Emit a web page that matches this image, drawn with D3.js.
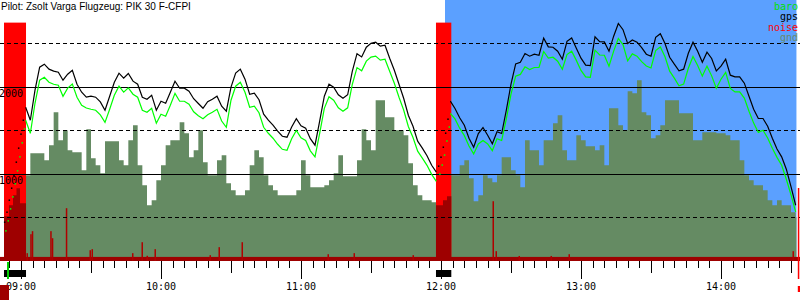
<!DOCTYPE html>
<html>
<head>
<meta charset="utf-8">
<title>Barogram</title>
<style>
  body { margin: 0; background: #fff; }
  svg { display: block; }
  .mono { font-family: "DejaVu Sans Mono", monospace; font-size: 10px; }
  .title { font-family: "Liberation Sans", Arial, sans-serif; font-size: 10px; }
</style>
</head>
<body>
<div id="chart"></div>
<script src="https://cdn.jsdelivr.net/npm/d3@7/dist/d3.min.js"></script>
<script>
const title = "Pilot: Zsolt Varga Flugzeug: PIK 30 F-CFPI";

// fixes every 2 minutes, first one at 09:02
const fixStart = "09:02";
const fixStep = 2;
const gps = [
  1768, 1618, 1963, 2228, 2262, 2205, 2182, 2170, 2078, 2147,
  2193, 2032, 1940, 1883, 1894, 1883, 1829, 1733, 1894, 2055,
  2159, 2101, 2155, 2067, 2032, 1883, 1860, 1906, 1733, 1837,
  1814, 1940, 2067, 1986, 1986, 1952, 1865, 1810, 1756, 1831,
  1860, 1894, 1779, 1722, 1998, 2159, 2205, 2090, 1917, 1929,
  1854, 1687, 1618, 1561, 1492, 1434, 1423, 1541, 1636, 1555,
  1526, 1406, 1331, 1607, 1894, 2032, 1998, 1911, 1871, 1911,
  2182, 2383, 2346, 2457, 2503, 2515, 2469, 2480, 2331, 2193,
  2032, 1871, 1676, 1549, 1377, 1297, 1210, 1101, 1021, null,
  null, 1837, 1753, 1647, 1561, 1411, 1308, 1465, 1534, 1446,
  1348, 1486, 1465, 1733, 2032, 2265, 2285, 2385, 2354, 2377,
  2365, 2561, 2461, 2457, 2411, 2319, 2526, 2564, 2446, 2331,
  2251, 2245, 2576, 2521, 2518, 2411, 2584, 2730, 2659, 2500,
  2541, 2515, 2452, 2377, 2354, 2572, 2613, 2500, 2342, 2262,
  2187, 2205, 2388, 2515, 2411, 2285, 2400, 2328, 2185, 2239,
  2319, 2136, 2116, 2116, 2044, 1894, 1745, 1638, 1638, 1549,
  1411, 1288, 1197, 1055, 854, 641
];
const baro = [
  1618, 1468, 1813, 2078, 2112, 2055, 2032, 2020, 1893, 1987,
  2033, 1882, 1790, 1758, 1744, 1733, 1679, 1593, 1744, 1905,
  2009, 1941, 1990, 1917, 1882, 1733, 1710, 1756, 1583, 1687,
  1664, 1790, 1927, 1836, 1836, 1802, 1715, 1670, 1636, 1681,
  1710, 1744, 1609, 1537, 1848, 2009, 2055, 1940, 1767, 1779,
  1704, 1537, 1468, 1411, 1342, 1284, 1273, 1406, 1501, 1415,
  1386, 1266, 1196, 1467, 1754, 1889, 1848, 1761, 1721, 1761,
  2032, 2223, 2186, 2297, 2343, 2355, 2309, 2320, 2181, 2043,
  1882, 1736, 1546, 1419, 1262, 1182, 1100, 996, 916, null,
  null, 1697, 1633, 1527, 1441, 1321, 1231, 1345, 1384, 1346,
  1268, 1406, 1385, 1633, 1917, 2125, 2145, 2232, 2201, 2224,
  2225, 2408, 2331, 2342, 2296, 2204, 2373, 2411, 2306, 2191,
  2116, 2110, 2423, 2368, 2365, 2239, 2412, 2558, 2487, 2300,
  2381, 2355, 2292, 2242, 2219, 2419, 2460, 2347, 2182, 2102,
  2015, 2033, 2216, 2350, 2246, 2125, 2240, 2128, 1985, 2089,
  2169, 1983, 1944, 1944, 1872, 1722, 1585, 1478, 1503, 1414,
  1296, 1191, 1100, 940, 762, 564
];
const gnd = [
  986, 1239, 1239, 1239, 1159, 1331, 1710, 1389, 1503, 1274,
  1251, 1251, 1044, 1515, 1182, 1101, 1009, 1377, 1377, 1377,
  1159, 1101, 1389, 1561, 1101, 871, 641, 699, 929, 1101,
  1331, 1389, 1389, 1595, 1469, 1193, 1274, 1503, 1136, 986,
  986, 1159, 1216, 894, 814, 756, 756, 814, 1101, 1274,
  1193, 986, 871, 814, 756, 756, 756, 756, 814, 1159,
  986, 848, 848, 848, 871, 929, 1009, 1216, 975, 975,
  975, 1159, 1515, 1389, 1274, 1848, 1848, 1653, 1653, 1503,
  1503, 1446, 1124, 871, 756, 699, 699, 676, 676, 814,
  929, 986, 986, 1101, 1159, 952, 687, 756, 986, 952,
  906, 986, 1193, 1193, 1044, 986, 848, 1389, 1274, 1274,
  1101, 1389, 1389, 1584, 1676, 1274, 1159, 1159, 1446, 1389,
  1320, 1320, 1274, 1331, 1101, 1756, 1756, 1561, 1503, 1952,
  1929, 2078, 1710, 1676, 1411, 1446, 1561, 1848, 1848, 1848,
  1699, 1699, 1699, 1389, 1389, 1480, 1480, 1480, 1469, 1469,
  1446, 1389, 1389, 1159, 986, 929, 871, 871, 814, 699,
  641, 699, 641, 641, 561, 503
];
const gndEnd = "14:32:20";

// sparse fixes while the engine runs
const engineFixTimes = ["08:53", "08:54", "08:55", "08:56", "08:57", "08:58", "08:59", "09:00", "09:01",
                        "11:59", "12:00", "12:01", "12:02", "12:03"];
const engineFixGps  = [446, 561, 699, 837, 986, 1136, 1297, 1458, 1618, 1090, 1193, 1308, 1469, 1630];
const engineFixBaro = [346, 461, 599, 737, 886, 1036, 1197, 1358, 1518, 1000, 1103, 1218, 1379, 1540];

const engineRuns = [["08:52:43", "09:02:09"], ["11:57:51", "12:04:25"]];
const taskWindow = ["12:01:43", gndEnd];

// noise
const noiseFloor = 47;
const noiseStepTimes  = ["08:52:43", "08:54:51", "08:56:34", "08:58:04", "08:59:34", "09:02:09",
                         "11:57:51", "12:00:51", "12:02:34", "12:04:25"];
const noiseStepLevels = [514, 641, 756, 837, 664, 0, 641, 699, 745];
const spikeTimes = ["09:02:34", "09:04:10", "09:04:50", "09:12:44", "09:13:25", "09:19:25", "09:29:34",
                    "09:30:26", "09:47:47", "09:51:51", "09:54:00", "09:57:25", "10:21:00", "10:24:51",
                    "10:34:43", "11:11:34", "11:22:43", "11:48:00", "12:22:17", "12:23:34", "12:33:26",
                    "12:47:09", "12:54:51", "14:30:51"];
const spikeLevels = [90, 308, 343, 343, 262, 607, 124, 136, 90, 216, 60, 136, 67, 159,
                     216, 78, 90, 67, 687, 113, 58, 58, 78, 113];

const takeoff = "08:54:26";
const landing = "14:33:08";
const landingLevel = 839;

const gridLevels = [500, 1000, 1500, 2000, 2500];
const legendNames = ["baro", "gps", "noise", "gnd"];
const legendColors = ["#00e000", "#000000", "#ff0000", "#6a8a68"];

const parseTime = d3.timeParse("%H:%M:%S");
const t = s => parseTime(s.length === 5 ? s + ":00" : s);

const width = 800, height = 300;
const x = d3.scaleTime().domain([t("08:51"), t("14:34")]).range([0, 800.33]);
const y = d3.scaleLinear().domain([0, 3000]).range([261, 0]);

const svg = d3.select("#chart").append("svg")
  .attr("width", width).attr("height", height);

const fixTimes = gps.map((_, i) => d3.timeMinute.offset(t(fixStart), i * fixStep));

// task window
svg.append("rect")
  .attr("x", x(t(taskWindow[0]))).attr("y", 0)
  .attr("width", x(t(taskWindow[1])) - x(t(taskWindow[0])))
  .attr("height", y(0))
  .attr("fill", "#5ba0ff");

// ground
const gndData = gnd.map((v, i) => [fixTimes[i], v]);
gndData.push([t(gndEnd), gnd[gnd.length - 1]]);
svg.append("path")
  .datum(gndData)
  .attr("fill", "#658b63")
  .attr("d", d3.area().curve(d3.curveStepAfter)
    .x(d => x(d[0])).y0(y(0)).y1(d => y(d[1])));

// engine runs
svg.selectAll(".engine").data(engineRuns).enter().append("rect")
  .attr("x", d => x(t(d[0])))
  .attr("width", d => x(t(d[1])) - x(t(d[0])))
  .attr("y", y(2740))
  .attr("height", y(0) - y(2740))
  .attr("fill", "#ff0000");

// noise
svg.append("rect")
  .attr("x", 0).attr("width", width)
  .attr("y", y(noiseFloor)).attr("height", y(0) - y(noiseFloor))
  .attr("fill", "#9e0000");
const noiseData = noiseStepTimes.map((s, i) => [t(s), i < noiseStepLevels.length ? noiseStepLevels[i] : 0]);
svg.append("path")
  .datum(noiseData)
  .attr("fill", "#9e0000")
  .attr("d", d3.area().curve(d3.curveStepAfter)
    .x(d => x(d[0])).y0(y(0)).y1(d => y(d[1])));
svg.selectAll(".spike").data(spikeTimes).enter().append("rect")
  .attr("x", d => x(t(d)) - 0.5)
  .attr("width", 1.5)
  .attr("y", (d, i) => y(spikeLevels[i]))
  .attr("height", (d, i) => y(0) - y(spikeLevels[i]))
  .attr("fill", "#b00000");

// grid
gridLevels.forEach(v => {
  const yy = Math.floor(y(v)) + 0.5;
  svg.append("line")
    .attr("x1", 0).attr("x2", width).attr("y1", yy).attr("y2", yy)
    .attr("stroke", "#000").attr("stroke-width", 1)
    .attr("stroke-dasharray", v % 1000 === 0 ? null : "4,3");
  if (v % 1000 === 0) {
    svg.append("text").attr("class", "mono")
      .attr("x", -1).attr("y", yy + 9.5).text(v);
  }
});

// barogram lines
const line = d3.line()
  .defined(d => d[1] != null)
  .x(d => x(d[0])).y(d => y(d[1]));
svg.append("path")
  .datum(baro.map((v, i) => [fixTimes[i], v]))
  .attr("fill", "none").attr("stroke", "#00ff00").attr("stroke-width", 1.2)
  .attr("d", line);
svg.append("path")
  .datum(gps.map((v, i) => [fixTimes[i], v]))
  .attr("fill", "none").attr("stroke", "#000").attr("stroke-width", 1.2)
  .attr("d", line);

svg.selectAll(".baro-dot").data(engineFixTimes).enter().append("rect")
  .attr("x", d => x(t(d)) + 0.5).attr("y", (d, i) => y(engineFixBaro[i]) - 0.75)
  .attr("width", 1.5).attr("height", 1.5).attr("fill", "#00ff00");
svg.selectAll(".gps-dot").data(engineFixTimes).enter().append("rect")
  .attr("x", d => x(t(d)) - 0.75).attr("y", (d, i) => y(engineFixGps[i]) - 0.75)
  .attr("width", 1.5).attr("height", 1.5).attr("fill", "#000");

// time axis
const ticks = d3.timeMinute.every(5).range(t("08:55"), t("14:34"));
svg.selectAll(".tick").data(ticks).enter().append("line")
  .attr("x1", d => Math.round(x(d)) + 0.5).attr("x2", d => Math.round(x(d)) + 0.5)
  .attr("y1", 261)
  .attr("y2", d => 261 + (d.getMinutes() === 0 ? 18 : d.getMinutes() === 30 ? 12 : 7))
  .attr("stroke", "#000");
svg.selectAll(".hour").data(d3.timeHour.range(t("09:00"), t("14:01"))).enter().append("text")
  .attr("class", "mono")
  .attr("x", d => x(d)).attr("y", 289.5)
  .attr("text-anchor", "middle")
  .text(d3.timeFormat("%H:%M"));

// engine run bars, takeoff and landing
svg.selectAll(".run").data(engineRuns).enter().append("rect")
  .attr("x", d => x(t(d[0])))
  .attr("width", d => x(t(d[1])) - x(t(d[0])))
  .attr("y", 270).attr("height", 7).attr("fill", "#000");
svg.append("rect")
  .attr("x", x(t(takeoff)) - 1).attr("width", 2)
  .attr("y", 262).attr("height", 17).attr("fill", "#00d000");
svg.append("rect")
  .attr("x", x(t(landing)) - 0.5).attr("width", 1.5)
  .attr("y", y(landingLevel)).attr("height", 279 - y(landingLevel)).attr("fill", "#ff0000");
svg.append("rect")
  .attr("x", x(t(landing)) - 0.5).attr("width", 3)
  .attr("y", 286).attr("height", 6).attr("fill", "#ff0000");
svg.append("rect")
  .attr("x", 0).attr("width", 9)
  .attr("y", 285).attr("height", 15).attr("fill", "#9e0000");

// title and legend
svg.append("text").attr("class", "title")
  .attr("x", 1).attr("y", 10).text(title);
svg.selectAll(".legend").data(legendNames).enter().append("text")
  .attr("class", "mono")
  .attr("x", 798).attr("y", (d, i) => 10 + i * 10.3)
  .attr("text-anchor", "end")
  .attr("fill", (d, i) => legendColors[i])
  .text(d => d);
</script>
</body>
</html>
